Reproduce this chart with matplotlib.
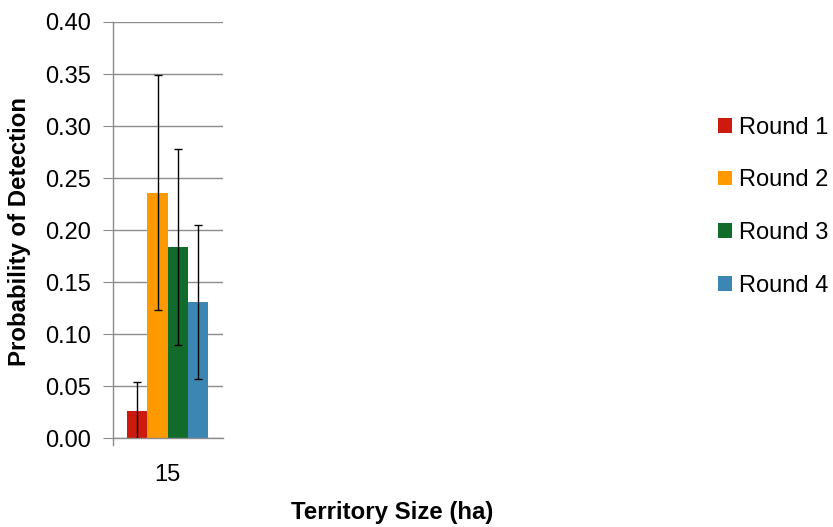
import matplotlib
matplotlib.use("Agg")
import matplotlib.pyplot as plt
import numpy as np

plt.rcParams['font.family'] = ['Liberation Sans', 'DejaVu Sans']

categories = ["15"]
series = ["Round 1", "Round 2", "Round 3", "Round 4"]
values = [0.026, 0.236, 0.184, 0.131]
errors = [0.028, 0.113, 0.094, 0.074]
colors = ["#CC1A0E", "#FF9900", "#116B2B", "#3C86B4"]
yticks = [0.00, 0.05, 0.10, 0.15, 0.20, 0.25, 0.30, 0.35, 0.40]

fig = plt.figure(figsize=(8.33, 5.27), dpi=100)
ax = fig.add_axes([112.5/833, 1-438.3/527, (223-112.5)/833, (438.3-22)/527])

n = len(series)
bw = 0.184
x0 = np.arange(len(categories))
for i, (s, v, e, c) in enumerate(zip(series, values, errors, colors)):
    xpos = x0 + (i - (n-1)/2) * bw
    ax.bar(xpos, [v], width=bw, color=c, label=s, zorder=2)
    ax.errorbar(xpos, [v], yerr=[e], fmt='none', ecolor='black',
                elinewidth=1.0, capsize=3, capthick=1.0, zorder=3)

ax.set_xlim(-0.5, 0.5)
ax.set_ylim(0, 0.40)
ax.set_yticks(yticks)
ax.set_yticklabels([f"{t:.2f}" for t in yticks])
ax.set_xticks(x0)
ax.set_xticklabels(categories)
ax.yaxis.grid(True, color='#8C8C8C', linewidth=1.0, zorder=0)
ax.set_axisbelow(True)
for sp in ['top', 'right']:
    ax.spines[sp].set_visible(False)
for sp in ['left', 'bottom']:
    ax.spines[sp].set_color('#8C8C8C')
    ax.spines[sp].set_linewidth(1.0)
ax.spines['left'].set_bounds(-0.0065, 0.40)
ax.tick_params(axis='y', length=7, color='#8C8C8C', labelsize=17, pad=8.7)
ax.tick_params(axis='x', length=0, labelsize=17, pad=18.5)

fig.text(392/833, 1-512/527, "Territory Size (ha)", ha='center', va='center',
         fontsize=17.3, fontweight='bold')
fig.text(20/833, 1-232/527, "Probability of Detection", ha='center', va='center',
         rotation=90, fontsize=17.3, fontweight='bold')

fig.legend(loc='center left', bbox_to_anchor=(718/833, 1-206.7/527), frameon=False,
           fontsize=17, handlelength=0.58, handleheight=0.58, handletextpad=0.3,
           labelspacing=1.3, borderpad=0, borderaxespad=0)

fig.savefig("out.png", dpi=100)
